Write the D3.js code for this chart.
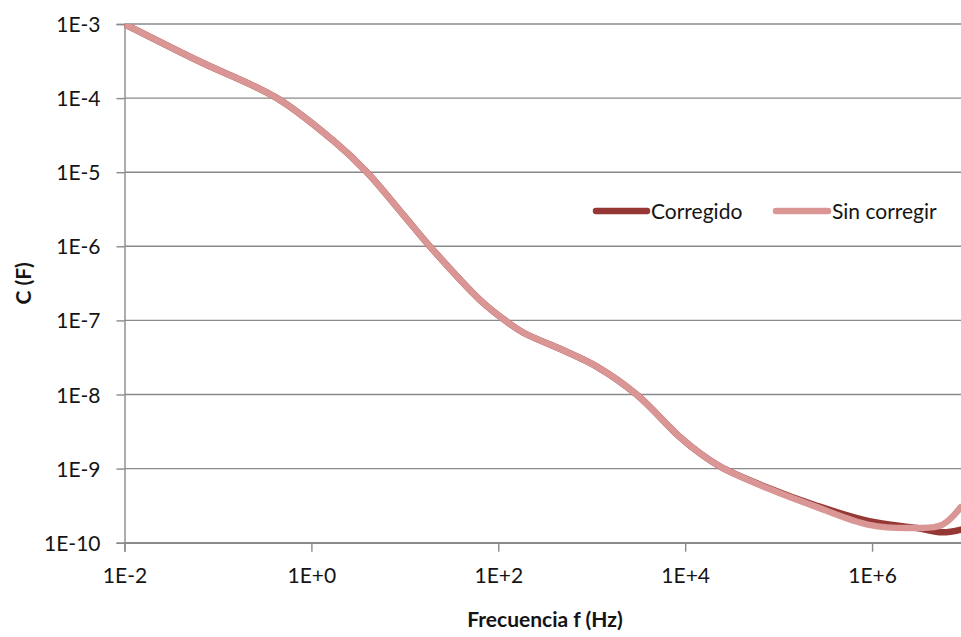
<!DOCTYPE html>
<html>
<head>
<meta charset="utf-8">
<script src="https://cdn.jsdelivr.net/npm/d3@7"></script>
<style>
  html, body { margin: 0; padding: 0; background: #fff; }
  svg { display: block; }
  text { font-family: Lato, "Open Sans", sans-serif; fill: #141414; }
</style>
</head>
<body>
<svg id="chart" width="961" height="637"></svg>
<script>
// Frequency sweep (Hz) shared by both series
const frequency = [1e-2, 6.46e-2, 0.428, 1.70, 3.93, 10, 18.5, 63.1, 105, 182, 490, 1120, 3020, 8710, 14450, 25100, 74130, 2.57e5, 9.33e5, 3.02e6, 5.62e6, 8.91e6];

// Capacitance (F), corrected and uncorrected
const corregido = [1e-3, 3.09e-4, 1.0e-4, 2.69e-5, 1e-5, 2.51e-6, 1e-6, 1.91e-7, 1.12e-7, 6.92e-8, 3.98e-8, 2.40e-8, 1e-8, 2.69e-9, 1.60e-9, 1.02e-9, 5.60e-10, 3.15e-10, 1.95e-10, 1.58e-10, 1.38e-10, 1.50e-10];
const sinCorregir = [1e-3, 3.09e-4, 1.0e-4, 2.69e-5, 1e-5, 2.51e-6, 1e-6, 1.91e-7, 1.12e-7, 6.92e-8, 3.98e-8, 2.40e-8, 1e-8, 2.69e-9, 1.60e-9, 1.02e-9, 5.50e-10, 3.02e-10, 1.74e-10, 1.58e-10, 1.74e-10, 3.02e-10];

const seriesNames = ["Corregido", "Sin corregir"];
const seriesColors = ["#953735", "#d99694"];

const xTicks = [1e-2, 1e0, 1e2, 1e4, 1e6];
const xTickLabels = ["1E-2", "1E+0", "1E+2", "1E+4", "1E+6"];
const yTicks = [1e-3, 1e-4, 1e-5, 1e-6, 1e-7, 1e-8, 1e-9, 1e-10];
const yTickLabels = ["1E-3", "1E-4", "1E-5", "1E-6", "1E-7", "1E-8", "1E-9", "1E-10"];

const svg = d3.select("#chart");
const plot = { left: 124.5, right: 965.5, top: 24, bottom: 542.7 };

const x = d3.scaleLog().domain([1e-2, 1e7]).range([plot.left, plot.right]);
const y = d3.scaleLog().domain([1e-10, 1e-3]).range([plot.bottom, plot.top]);

const gridColor = "#8a8a8a";

// horizontal gridlines
svg.append("g").selectAll("line").data(yTicks).join("line")
  .attr("x1", plot.left).attr("x2", plot.right)
  .attr("y1", d => y(d)).attr("y2", d => y(d))
  .attr("stroke", gridColor).attr("stroke-width", 1.4);

// y axis with tick marks on the left
const yAxis = d3.axisLeft(y).tickValues(yTicks)
  .tickFormat((d, i) => yTickLabels[i]).tickSize(8).tickPadding(16);
const gy = svg.append("g").attr("transform", `translate(${plot.left},0)`).call(yAxis);
gy.select(".domain").attr("stroke", gridColor).attr("stroke-width", 1.4);
gy.selectAll(".tick line").attr("stroke", gridColor).attr("stroke-width", 1.4);
gy.selectAll(".tick text").attr("font-size", 21).attr("font-family", "Lato, sans-serif")
  .attr("fill", "#141414").attr("dy", "0.36em");

// x axis with tick marks below
const xAxis = d3.axisBottom(x).tickValues(xTicks)
  .tickFormat((d, i) => xTickLabels[i]).tickSize(9).tickPadding(16);
const gx = svg.append("g").attr("transform", `translate(0,${plot.bottom})`).call(xAxis);
gx.select(".domain").attr("stroke", gridColor).attr("stroke-width", 1.4);
gx.selectAll(".tick line").attr("stroke", gridColor).attr("stroke-width", 1.4);
gx.selectAll(".tick text").attr("font-size", 21).attr("font-family", "Lato, sans-serif")
  .attr("fill", "#141414");

// plot clip
svg.append("clipPath").attr("id", "plotClip").append("rect")
  .attr("x", plot.left).attr("y", plot.top)
  .attr("width", plot.right - plot.left).attr("height", plot.bottom - plot.top);

const line = d3.line()
  .x(d => x(d[0])).y(d => y(d[1]))
  .curve(d3.curveCatmullRom.alpha(0.5));

const series = [corregido, sinCorregir];
const gLines = svg.append("g").attr("clip-path", "url(#plotClip)");
series.forEach((vals, i) => {
  gLines.append("path")
    .datum(frequency.map((f, j) => [f, vals[j]]))
    .attr("d", line)
    .attr("fill", "none")
    .attr("stroke", seriesColors[i])
    .attr("stroke-width", 6.5)
    .attr("stroke-linejoin", "round")
    .attr("stroke-linecap", "round");
});

// legend
const legendItems = [
  { x1: 596, x2: 647, tx: 651 },
  { x1: 776, x2: 828, tx: 832 }
];
const lg = svg.append("g");
legendItems.forEach((it, i) => {
  lg.append("line")
    .attr("x1", it.x1).attr("x2", it.x2).attr("y1", 211).attr("y2", 211)
    .attr("stroke", seriesColors[i]).attr("stroke-width", 6.5)
    .attr("stroke-linecap", "round");
  lg.append("text").attr("x", it.tx).attr("y", 218.5)
    .attr("font-size", 21).text(seriesNames[i]);
});

// axis titles
svg.append("text")
  .attr("x", (plot.left + plot.right) / 2).attr("y", 627)
  .attr("text-anchor", "middle").attr("font-size", 21).attr("font-weight", "bold")
  .text("Frecuencia f (Hz)");

svg.append("text")
  .attr("transform", `translate(31,${(plot.top + plot.bottom) / 2}) rotate(-90)`)
  .attr("text-anchor", "middle").attr("font-size", 21).attr("font-weight", "bold")
  .text("C (F)");
</script>
</body>
</html>
